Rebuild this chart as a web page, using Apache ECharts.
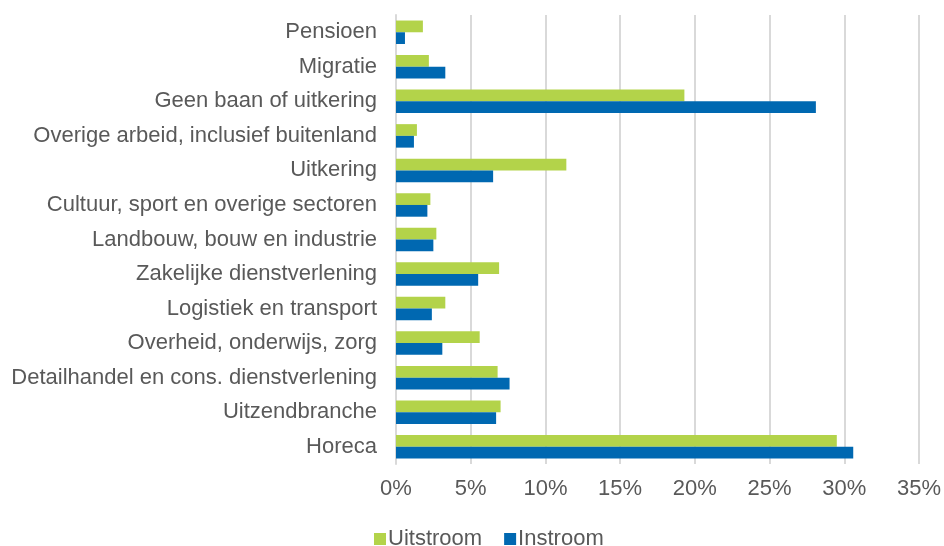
<!DOCTYPE html>
<html>
<head>
<meta charset="utf-8">
<script src="https://cdn.jsdelivr.net/npm/echarts@6/dist/echarts.min.js"></script>
<style>
  html, body { margin: 0; padding: 0; background: #fff; }
  #chart { width: 944px; height: 546px; }
</style>
</head>
<body>
<div id="chart"></div>
<script>
// categories top to bottom as in the picture
var categories = [
  'Pensioen',
  'Migratie',
  'Geen baan of uitkering',
  'Overige arbeid, inclusief buitenland',
  'Uitkering',
  'Cultuur, sport en overige sectoren',
  'Landbouw, bouw en industrie',
  'Zakelijke dienstverlening',
  'Logistiek en transport',
  'Overheid, onderwijs, zorg',
  'Detailhandel en cons. dienstverlening',
  'Uitzendbranche',
  'Horeca'
];
var uitstroom = [1.8, 2.2, 19.3, 1.4, 11.4, 2.3, 2.7, 6.9, 3.3, 5.6, 6.8, 7.0, 29.5];
var instroom  = [0.6, 3.3, 28.1, 1.2, 6.5, 2.1, 2.5, 5.5, 2.4, 3.1, 7.6, 6.7, 30.6];

var chart = echarts.init(document.getElementById('chart'));
var font = 'Liberation Sans, Arial, sans-serif';

chart.setOption({
  animation: false,
  grid: { left: 396, right: 23, top: 15, bottom: 82, containLabel: false },
  legend: {
    data: ['Uitstroom', 'Instroom'],
    top: 523,
    left: 369,
    icon: 'rect',
    itemWidth: 12,
    itemHeight: 12,
    itemGap: 22,
    textStyle: { fontFamily: font, fontSize: 22, color: '#595959', padding: [0, 0, 0, -3] }
  },
  xAxis: {
    type: 'value',
    min: 0,
    max: 35,
    interval: 5,
    axisLine: { show: false },
    axisTick: { show: false },
    splitLine: { lineStyle: { color: '#d9d9d9', width: 2 } },
    axisLabel: {
      formatter: '{value}%',
      fontFamily: font,
      fontSize: 22,
      color: '#595959',
      margin: 14
    }
  },
  yAxis: {
    type: 'category',
    data: categories,
    inverse: true,
    axisLine: { show: true, lineStyle: { color: '#d9d9d9', width: 2 } },
    axisTick: { show: false },
    axisLabel: {
      fontFamily: font,
      fontSize: 22,
      color: '#595959',
      margin: 19
    }
  },
  series: [
    {
      name: 'Uitstroom',
      type: 'bar',
      data: uitstroom,
      barGap: '0%',
      barCategoryGap: '32%',
      itemStyle: { color: '#b3d34a' }
    },
    {
      name: 'Instroom',
      type: 'bar',
      data: instroom,
      itemStyle: { color: '#0068b1' }
    }
  ]
});
</script>
</body>
</html>
